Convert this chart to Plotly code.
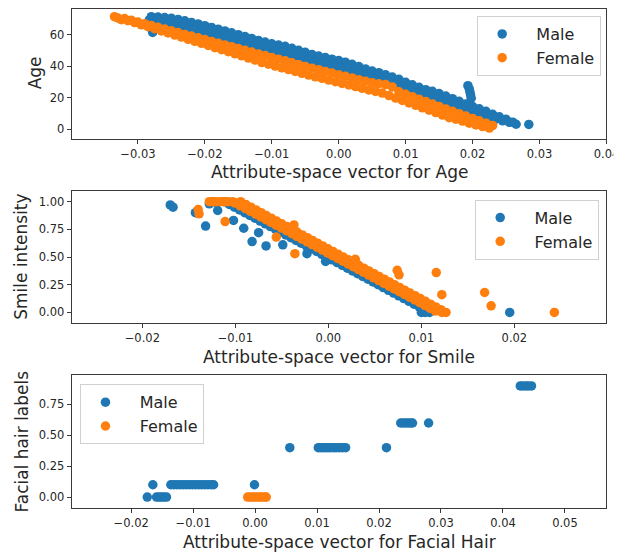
import plotly.graph_objects as go

# The page body keeps the browser's default 8px margin, so the figure starts
# 8px in and every position below is given in window pixels.
OFF = 8
W, H = 641 - OFF, 554 - OFF
BLUE = "#1f77b4"
ORANGE = "#ff7f0e"
FONT = "DejaVu Sans"

# ---------------- Panel 1 : Age ----------------
AGE_MALE_X = [-0.028, -0.027, -0.026, -0.025, -0.024, -0.023, -0.022, -0.021, -0.020, -0.019,
              -0.018, -0.017, -0.016, -0.015, -0.014, -0.013, -0.012, -0.011, -0.010, -0.009,
              -0.008, -0.007, -0.006, -0.005, -0.004, -0.003, -0.002, -0.001, 0.000, 0.001,
              0.002, 0.003, 0.004, 0.005, 0.006, 0.007, 0.008, 0.009, 0.010, 0.011,
              0.012, 0.013, 0.014, 0.015, 0.016, 0.017, 0.018, 0.019, 0.020, 0.021,
              0.022, 0.023, 0.024, 0.025, 0.026]
AGE_MALE_UPPER = [71.5, 71.3, 71.0, 70.5, 69.8, 68.9, 67.9, 66.9, 65.8, 64.7,
                  63.6, 62.5, 61.3, 60.1, 58.9, 57.7, 56.5, 55.4, 54.3, 53.5,
                  52.7, 51.5, 50.2, 48.9, 47.6, 46.6, 45.6, 44.6, 43.7, 42.7,
                  41.3, 39.9, 38.4, 37.0, 36.0, 34.7, 33.2, 31.8, 29.9, 28.3,
                  26.7, 25.2, 24.2, 22.8, 21.2, 19.5, 17.9, 16.2, 14.6, 13.1,
                  11.5, 9.6, 8.0, 6.4, 4.6]
AGE_MALE_X_LOWER = [-0.0275, -0.0265, -0.0255, -0.0245, -0.0235, -0.0225, -0.0215, -0.0205, -0.0195, -0.0185,
                    -0.0175, -0.0165, -0.0155, -0.0145, -0.0135, -0.0125, -0.0115, -0.0105, -0.0095, -0.0085,
                    -0.0075, -0.0065, -0.0055, -0.0045, -0.0035, -0.0025, -0.0015, -0.0005, 0.0005, 0.0015,
                    0.0025, 0.0035, 0.0045, 0.0055, 0.0065, 0.0075, 0.0085, 0.0095, 0.0105, 0.0115,
                    0.0125, 0.0135, 0.0145, 0.0155, 0.0165, 0.0175, 0.0185, 0.0195, 0.0205, 0.0215,
                    0.0225, 0.0235, 0.0245, 0.0255, 0.0265]
AGE_MALE_LOWER = [66.5, 66.3, 66.0, 65.5, 64.8, 63.9, 62.9, 61.9, 60.8, 59.7,
                  58.6, 57.5, 56.3, 55.1, 53.9, 52.7, 51.5, 50.4, 49.3, 48.5,
                  47.7, 46.5, 45.2, 43.9, 42.6, 41.6, 40.6, 39.6, 38.7, 37.7,
                  36.3, 34.9, 33.4, 32.0, 31.0, 29.7, 28.2, 26.8, 24.9, 23.3,
                  21.7, 20.2, 19.2, 17.8, 16.2, 14.5, 12.9, 11.2, 9.6, 8.1,
                  8.0, 6.5, 5.5, 4.5, 3.3]
AGE_MALE_EXTRA_X = [-0.0283, -0.0281, -0.0279, -0.0278, 0.0193, 0.0195, 0.0196, 0.0197, 0.0198, 0.0284]
AGE_MALE_EXTRA_Y = [69.5, 66.5, 63.5, 61.5, 27.8, 25.8, 23.8, 21.8, 19.8, 3.2]

AGE_FEMALE_X = [-0.033, -0.032, -0.031, -0.030, -0.029, -0.028, -0.027, -0.026, -0.025, -0.024,
                -0.023, -0.022, -0.021, -0.020, -0.019, -0.018, -0.017, -0.016, -0.015, -0.014,
                -0.013, -0.012, -0.011, -0.010, -0.009, -0.008, -0.007, -0.006, -0.005, -0.004,
                -0.003, -0.002, -0.001, 0.000, 0.001, 0.002, 0.003, 0.004, 0.005, 0.006,
                0.007, 0.008, 0.009, 0.010, 0.011, 0.012, 0.013, 0.014, 0.015, 0.016,
                0.017, 0.018, 0.019, 0.020, 0.021, 0.022, 0.023]
AGE_FEMALE_UPPER = [70.7, 70.3, 69.3, 68.1, 67.1, 66.0, 64.8, 63.7, 62.6, 61.5,
                    60.3, 59.2, 58.1, 57.0, 55.8, 54.7, 53.6, 52.5, 51.4, 50.2,
                    49.1, 47.9, 46.9, 45.7, 44.6, 43.5, 42.3, 41.1, 40.0, 38.9,
                    37.9, 36.8, 35.8, 34.7, 33.7, 32.7, 31.6, 30.6, 29.6, 29.0,
                    28.5, 27.0, 23.9, 22.3, 20.8, 19.2, 17.7, 16.2, 14.6, 13.0,
                    11.5, 10.0, 8.5, 7.0, 5.5, 4.0, 2.5]
AGE_FEMALE_X_LOWER = [-0.0325, -0.0315, -0.0305, -0.0295, -0.0285, -0.0275, -0.0265, -0.0255, -0.0245, -0.0235,
                      -0.0225, -0.0215, -0.0205, -0.0195, -0.0185, -0.0175, -0.0165, -0.0155, -0.0145, -0.0135,
                      -0.0125, -0.0115, -0.0105, -0.0095, -0.0085, -0.0075, -0.0065, -0.0055, -0.0045, -0.0035,
                      -0.0025, -0.0015, -0.0005, 0.0005, 0.0015, 0.0025, 0.0035, 0.0045, 0.0055, 0.0065,
                      0.0075, 0.0085, 0.0095, 0.0105, 0.0115, 0.0125, 0.0135, 0.0145, 0.0155, 0.0165,
                      0.0175, 0.0185, 0.0195, 0.0205, 0.0215, 0.0225]
AGE_FEMALE_LOWER = [69.6, 69.0, 67.8, 66.4, 65.2, 63.9, 62.5, 61.2, 59.9, 58.6,
                    57.2, 55.9, 54.6, 53.3, 51.9, 50.6, 49.3, 48.0, 46.7, 45.3,
                    44.0, 42.4, 41.4, 40.2, 39.1, 38.0, 36.8, 35.6, 34.5, 33.4,
                    32.4, 31.3, 30.3, 29.2, 28.2, 27.2, 26.1, 25.1, 24.1, 23.1,
                    21.5, 19.9, 18.4, 16.8, 15.3, 13.7, 12.2, 10.7, 9.1, 7.5,
                    6.5, 5.3, 4.0, 2.9, 1.8, 0.9]
AGE_FEMALE_EXTRA_X = [-0.0335]
AGE_FEMALE_EXTRA_Y = [71.5]

AGE_XTICKS = [-0.03, -0.02, -0.01, 0.0, 0.01, 0.02, 0.03, 0.04]
AGE_XTICKTEXT = ["\u22120.03", "\u22120.02", "\u22120.01", "0.00", "0.01", "0.02", "0.03", "0.04"]
AGE_YTICKS = [0, 20, 40, 60]
AGE_YTICKTEXT = ["0", "20", "40", "60"]

# ---------------- Panel 2 : Smile ----------------
SMILE_LEVELS = [1.0, 0.975, 0.95, 0.925, 0.9, 0.875, 0.85, 0.825, 0.8, 0.775,
                0.75, 0.725, 0.7, 0.675, 0.65, 0.625, 0.6, 0.575, 0.55, 0.525,
                0.5, 0.475, 0.45, 0.425, 0.4, 0.375, 0.35, 0.325, 0.3, 0.275,
                0.25, 0.225, 0.2, 0.175, 0.15, 0.125, 0.1, 0.075, 0.05, 0.025, 0.0]
SMILE_LEVELS_B = [0.9875, 0.9625, 0.9375, 0.9125, 0.8875, 0.8625, 0.8375, 0.8125, 0.7875, 0.7625,
                  0.7375, 0.7125, 0.6875, 0.6625, 0.6375, 0.6125, 0.5875, 0.5625, 0.5375, 0.5125,
                  0.4875, 0.4625, 0.4375, 0.4125, 0.3875, 0.3625, 0.3375, 0.3125, 0.2875, 0.2625,
                  0.2375, 0.2125, 0.1875, 0.1625, 0.1375, 0.1125, 0.0875, 0.0625, 0.0375, 0.0125]
SMILE_MALE_X = [-0.01121, -0.01065, -0.01010, -0.00955, -0.00900, -0.00845, -0.00789, -0.00734, -0.00679, -0.00624,
                -0.00569, -0.00514, -0.00458, -0.00403, -0.00348, -0.00293, -0.00238, -0.00182, -0.00127, -0.00072,
                -0.00017, 0.00038, 0.00094, 0.00149, 0.00204, 0.00259, 0.00314, 0.00369, 0.00425, 0.00480,
                0.00535, 0.00590, 0.00645, 0.00701, 0.00756, 0.00811, 0.00866, 0.00921, 0.00977, 0.01032, 0.01087]
SMILE_FEMALE_UPPER_X = [-0.00943, -0.00887, -0.00832, -0.00777, -0.00722, -0.00667, -0.00611, -0.00556, -0.00501, -0.00446,
                        -0.00391, -0.00336, -0.00280, -0.00225, -0.00170, -0.00115, -0.00060, -0.00004, 0.00051, 0.00106,
                        0.00161, 0.00216, 0.00272, 0.00327, 0.00382, 0.00437, 0.00492, 0.00547, 0.00603, 0.00658,
                        0.00713, 0.00768, 0.00823, 0.00879, 0.00934, 0.00989, 0.01044, 0.01099, 0.01155, 0.01210, 0.01265]
SMILE_FEMALE_LOWER_X = [-0.01003, -0.00948, -0.00893, -0.00838, -0.00782, -0.00727, -0.00672, -0.00617, -0.00562, -0.00506,
                        -0.00451, -0.00396, -0.00341, -0.00286, -0.00230, -0.00175, -0.00120, -0.00065, -0.00010, 0.00045,
                        0.00101, 0.00156, 0.00211, 0.00266, 0.00321, 0.00377, 0.00432, 0.00487, 0.00542, 0.00597,
                        0.00653, 0.00708, 0.00763, 0.00818, 0.00873, 0.00929, 0.00984, 0.01039, 0.01094, 0.01149]
SMILE_MALE_EXTRA_X = [-0.0170, -0.0167, -0.0143, -0.0132, -0.0128, -0.0124, -0.0120, -0.0119, -0.0102, -0.0091,
                      -0.0082, -0.0075, -0.0067, -0.0049, -0.0023, -0.0003, 0.0100, 0.0104, 0.0195]
SMILE_MALE_EXTRA_Y = [0.97, 0.95, 0.90, 0.78, 0.98, 1.00, 0.99, 0.92, 0.83, 0.76,
                      0.64, 0.72, 0.60, 0.61, 0.53, 0.46, 0.0, 0.0, 0.0]
SMILE_FEMALE_EXTRA_X = [-0.0128, -0.0124, -0.0120, -0.0116, -0.0112, -0.0108, -0.0103, -0.0140, -0.0139, -0.0111,
                        -0.0056, -0.0037, -0.0036, 0.0029, 0.0030, 0.0074, 0.0076, 0.0116, 0.0122, 0.0122,
                        0.0168, 0.0175, 0.0243]
SMILE_FEMALE_EXTRA_Y = [1.0, 1.0, 1.0, 1.0, 1.0, 1.0, 1.0, 0.93, 0.89, 0.82,
                        0.68, 0.79, 0.53, 0.48, 0.42, 0.38, 0.34, 0.36, 0.16, 0.0,
                        0.18, 0.06, 0.0]

SMILE_XTICKS = [-0.02, -0.01, 0.0, 0.01, 0.02]
SMILE_XTICKTEXT = ["\u22120.02", "\u22120.01", "0.00", "0.01", "0.02"]
SMILE_YTICKS = [0.0, 0.25, 0.5, 0.75, 1.0]
SMILE_YTICKTEXT = ["0.00", "0.25", "0.50", "0.75", "1.00"]

# ---------------- Panel 3 : Facial hair ----------------
FH_MALE_X = [-0.0174, -0.0159, -0.0155, -0.0151, -0.0147, -0.0143,
             -0.0165, -0.0136, -0.0131, -0.0126, -0.0121, -0.0116, -0.0111, -0.0106, -0.0101, -0.0096,
             -0.0091, -0.0086, -0.0081, -0.0076, -0.0071, -0.0067, -0.0001,
             0.0056, 0.0102, 0.0106, 0.0110, 0.0114, 0.0118, 0.0122, 0.0127, 0.0131, 0.0136, 0.0141, 0.0146, 0.0212,
             0.0235, 0.0239, 0.0243, 0.0247, 0.0251, 0.0254, 0.0280,
             0.0428, 0.0432, 0.0437, 0.0441, 0.0446]
FH_MALE_Y = [0.0, 0.0, 0.0, 0.0, 0.0, 0.0,
             0.1, 0.1, 0.1, 0.1, 0.1, 0.1, 0.1, 0.1, 0.1, 0.1,
             0.1, 0.1, 0.1, 0.1, 0.1, 0.1, 0.1,
             0.4, 0.4, 0.4, 0.4, 0.4, 0.4, 0.4, 0.4, 0.4, 0.4, 0.4, 0.4, 0.4,
             0.6, 0.6, 0.6, 0.6, 0.6, 0.6, 0.6,
             0.9, 0.9, 0.9, 0.9, 0.9]
FH_FEMALE_X = [-0.0012, -0.0008, -0.0004, 0.0000, 0.0004, 0.0008, 0.0012, 0.0016, 0.0018]
FH_FEMALE_Y = [0.0, 0.0, 0.0, 0.0, 0.0, 0.0, 0.0, 0.0, 0.0]

FH_XTICKS = [-0.02, -0.01, 0.0, 0.01, 0.02, 0.03, 0.04, 0.05]
FH_XTICKTEXT = ["\u22120.02", "\u22120.01", "0.00", "0.01", "0.02", "0.03", "0.04", "0.05"]
FH_YTICKS = [0.0, 0.25, 0.5, 0.75]
FH_YTICKTEXT = ["0.00", "0.25", "0.50", "0.75"]

SERIES = ["Male", "Female"]
X_TITLES = ["Attribute-space vector for Age", "Attribute-space vector for Smile",
            "Attribute-space vector for Facial Hair"]
Y_TITLES = ["Age", "Smile intensity", "Facial hair labels"]

# ---------------- layout geometry (window pixels) ----------------
X0, X1 = 73, 619
PANELS = [(8, 138), (190, 323), (375, 508)]


def px(x):
    return min(1.0, max(0.0, (x - OFF) / W))


def py(y):
    return min(1.0, max(0.0, 1 - (y - OFF) / H))


fig = go.Figure()


def add(xs, ys, name, color, idx, legend):
    sfx = "" if idx == 1 else str(idx)
    fig.add_trace(go.Scatter(
        x=xs, y=ys, mode="markers", name="\u00a0\u00a0" + name,
        marker=dict(color=color, size=9.5, line=dict(width=0)),
        xaxis="x" + sfx, yaxis="y" + sfx, legend=legend, showlegend=True,
        legendgroup=name + legend, hoverinfo="skip"))


# panel 1
add(AGE_MALE_X + AGE_MALE_X_LOWER + AGE_MALE_EXTRA_X,
    AGE_MALE_UPPER + AGE_MALE_LOWER + AGE_MALE_EXTRA_Y, SERIES[0], BLUE, 1, "legend")
add(AGE_FEMALE_X + AGE_FEMALE_X_LOWER + AGE_FEMALE_EXTRA_X,
    AGE_FEMALE_UPPER + AGE_FEMALE_LOWER + AGE_FEMALE_EXTRA_Y, SERIES[1], ORANGE, 1, "legend")
# panel 2
add(SMILE_MALE_X + SMILE_MALE_EXTRA_X, SMILE_LEVELS + SMILE_MALE_EXTRA_Y, SERIES[0], BLUE, 2, "legend2")
add(SMILE_FEMALE_UPPER_X + SMILE_FEMALE_LOWER_X + SMILE_FEMALE_EXTRA_X,
    SMILE_LEVELS + SMILE_LEVELS_B + SMILE_FEMALE_EXTRA_Y, SERIES[1], ORANGE, 2, "legend2")
# panel 3
add(FH_MALE_X, FH_MALE_Y, SERIES[0], BLUE, 3, "legend3")
add(FH_FEMALE_X, FH_FEMALE_Y, SERIES[1], ORANGE, 3, "legend3")

AX_COLOR = "#3a3a3a"
TICK_FONT = dict(family=FONT, size=11.5, color="#262626")


def axis(domain, rng, vals, text, anchor):
    return dict(domain=domain, range=rng, tickvals=vals, ticktext=text, anchor=anchor,
                showgrid=False, zeroline=False, showline=True, mirror=True,
                linecolor=AX_COLOR, linewidth=1, ticks="outside", ticklen=4, tickwidth=1,
                tickcolor=AX_COLOR, tickfont=TICK_FONT, fixedrange=True)


xdom = [px(X0), px(X1)]
ydoms = [[py(b), py(t)] for (t, b) in PANELS]

layout = dict(
    width=W, height=H, margin=dict(l=0, r=0, t=0, b=0),
    paper_bgcolor="white", plot_bgcolor="white",
    font=dict(family=FONT, color="#262626"),
    xaxis=axis(xdom, [-0.0399, 0.04], AGE_XTICKS, AGE_XTICKTEXT, "y"),
    yaxis=axis(ydoms[0], [-5.9, 76.4], AGE_YTICKS, AGE_YTICKTEXT, "x"),
    xaxis2=axis(xdom, [-0.0276, 0.0299], SMILE_XTICKS, SMILE_XTICKTEXT, "y2"),
    yaxis2=axis(ydoms[1], [-0.099, 1.099], SMILE_YTICKS, SMILE_YTICKTEXT, "x2"),
    xaxis3=axis(xdom, [-0.0296, 0.0567], FH_XTICKS, FH_XTICKTEXT, "y3"),
    yaxis3=axis(ydoms[2], [-0.089, 0.986], FH_YTICKS, FH_YTICKTEXT, "x3"),
    showlegend=True,
)

LEG_POS = [(487, 15), (485, 199), (82, 384)]
for i, (lx, ly) in enumerate(LEG_POS):
    key = "legend" if i == 0 else "legend%d" % (i + 1)
    layout[key] = dict(x=px(lx), y=py(ly), xanchor="left", yanchor="top",
                       bgcolor="rgba(255,255,255,0.85)", bordercolor="#d0d0d0", borderwidth=1,
                       font=dict(family=FONT, size=16, color="#262626"),
                       itemwidth=38, tracegroupgap=2, traceorder="normal")

annotations = []
for i, (t, b) in enumerate(PANELS):
    annotations.append(dict(text=X_TITLES[i], xref="paper", yref="paper",
                            x=px((X0 + X1) / 2), y=py(b + 33.5), xanchor="center", yanchor="middle",
                            showarrow=False, font=dict(family=FONT, size=17, color="#262626")))
Y_TITLE_X = [35, 21, 22]
Y_TITLE_Y = [72, 256.5, 441.5]
for i in range(3):
    annotations.append(dict(text=Y_TITLES[i], xref="paper", yref="paper",
                            x=px(Y_TITLE_X[i]), y=py(Y_TITLE_Y[i]), xanchor="center", yanchor="middle",
                            textangle=-90, showarrow=False,
                            font=dict(family=FONT, size=17, color="#262626")))
layout["annotations"] = annotations

# the reference image is cropped just right of the last tick label of the top panel
layout["shapes"] = [dict(type="rect", xref="paper", yref="paper", x0=px(626), x1=1.0,
                         y0=py(166), y1=py(142), fillcolor="white", line=dict(width=0), layer="above")]

fig.update_layout(**layout)
fig.write_html("out.html")
